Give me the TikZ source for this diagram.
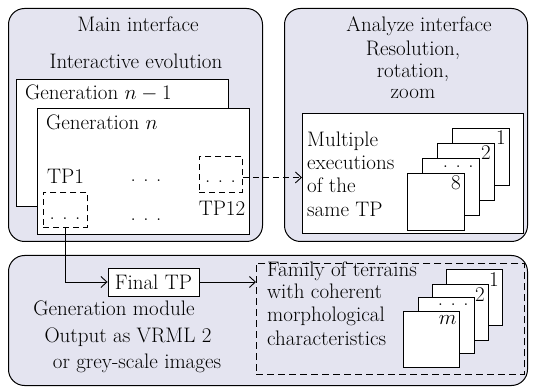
\documentclass[tikz,border=0pt]{standalone}
\usetikzlibrary{arrows.meta}
\definecolor{lav}{RGB}{228,228,240}
\newcommand\mydots{.\hspace{0.36em}.\hspace{0.36em}.}
\begin{document}
\begin{tikzpicture}[x=1pt,y=-1pt,
  every node/.style={font=\fontsize{21}{23}\selectfont},
  panel/.style={draw=black, line width=1pt, fill=lav, rounded corners=16pt, anchor=north west, inner sep=0pt},
  wbox/.style={draw, line width=0.9pt, fill=white, anchor=north west, inner sep=0pt},
  dbox/.style={draw, line width=0.9pt, dash pattern=on 6pt off 4pt, anchor=north west, inner sep=0pt},
  txt/.style={inner sep=0pt, anchor=base},
  ltxt/.style={inner sep=0pt, anchor=base west},
  lbl/.style={inner sep=0pt, anchor=base east},
  arr/.style={line width=0.9pt, -{Straight Barb[length=6pt,width=11pt]}}
]
\useasboundingbox (0,0) rectangle (533,387);
% panels
\node[panel, minimum width=254, minimum height=233] (main) at (8,8) {};
\node[panel, minimum width=243, minimum height=233] (ana) at (284,8) {};
\node[panel, minimum width=519, minimum height=130] (gen) at (8,255) {};
% main interface
\node[txt] (t1) at (138,32) {Main interface};
\node[txt] (t2) at (136,69) {Interactive evolution};
\node[wbox, minimum width=212, minimum height=127] (g1) at (16,79) {};
\node[ltxt] (g1t) at (25,100) {Generation $n-1$};
\node[wbox, minimum width=212, minimum height=126] (g2) at (37,108) {};
\node[ltxt] (g2t) at (46,130) {Generation $n$};
\node[txt] (tp1t) at (65.5,184) {TP1};
\node[txt] (d1) at (146,182) {\mydots};
\node[txt] (d2) at (146,221) {\mydots};
\node[dbox, minimum width=44, minimum height=35] (tp1) at (43,192) {};
\node[txt] (tp1d) at (65,220) {\mydots};
\node[dbox, minimum width=43, minimum height=36] (tp12) at (199,156) {};
\node[txt] (tp12d) at (220.5,183) {\mydots};
\node[txt] (tp12t) at (222,216) {TP12};
% analyze interface
\node[txt] (a1) at (419,32) {Analyze interface};
\node[txt] (a2) at (413,56) {Resolution,};
\node[txt] (a3) at (413,78) {rotation,};
\node[txt] (a4) at (413,99) {zoom};
\node[wbox, minimum width=221, minimum height=120] (inner) at (302,113) {};
\node[ltxt] (m1) at (307,147) {Multiple};
\node[ltxt] (m2) at (307,170) {executions};
\node[ltxt] (m3) at (307,193) {of the};
\node[ltxt] (m4) at (307,217) {same TP};
\node[wbox, minimum size=57] (s1) at (452,128) {};
\node[lbl] (s1l) at ([xshift=-4pt,yshift=-17pt]s1.north east) {1};
\node[wbox, minimum size=57] (s2) at (437,143) {};
\node[lbl] (s2l) at ([xshift=-4pt,yshift=-17pt]s2.north east) {2};
\node[wbox, minimum size=57] (s3) at (422,158) {};
\node[lbl] (s3l) at ([xshift=-6pt,yshift=-10pt]s3.north east) {\mydots};
\node[wbox, minimum size=57] (s4) at (407,173) {};
\node[lbl] (s4l) at ([xshift=-4pt,yshift=-17pt]s4.north east) {8};
% generation module
\node[wbox, anchor=center, minimum width=91, minimum height=28] (final) at (153.5,282) {Final TP};
\node[txt] (b1) at (114,316) {Generation module};
\node[txt] (b2) at (128,343) {Output as VRML 2};
\node[txt] (b3) at (137,369) {or grey-scale images};
\node[dbox, dash pattern=on 7pt off 4pt, minimum width=268, minimum height=111] (fam) at (256,263) {};
\node[ltxt] (f1) at (267,277) {Family of terrains};
\node[ltxt] (f2) at (267,299) {with coherent};
\node[ltxt] (f3) at (267,322) {morphological};
\node[ltxt] (f4) at (267,345) {characteristics};
\node[wbox, minimum size=56] (r1) at (446,269) {};
\node[lbl] (r1l) at ([xshift=-4pt,yshift=-18pt]r1.north east) {1};
\node[wbox, minimum size=56] (r2) at (432,284) {};
\node[lbl] (r2l) at ([xshift=-4pt,yshift=-18pt]r2.north east) {2};
\node[wbox, minimum size=56] (r3) at (418,297) {};
\node[lbl] (r3l) at ([xshift=-6pt,yshift=-9pt]r3.north east) {\mydots};
\node[wbox, minimum size=56] (r4) at (403,311) {};
\node[lbl] (r4l) at ([xshift=-3pt,yshift=-14pt]r4.north east) {$m$};
% connectors
\draw[arr, dash pattern=on 6pt off 4pt] ([yshift=-3pt]tp12.east) -- ([yshift=-3pt]tp12.east -| inner.west);
\draw[arr] (tp1.south) |- (final.west);
\draw[arr] (final.east) -- (final.east -| fam.west);
\end{tikzpicture}
\end{document}
